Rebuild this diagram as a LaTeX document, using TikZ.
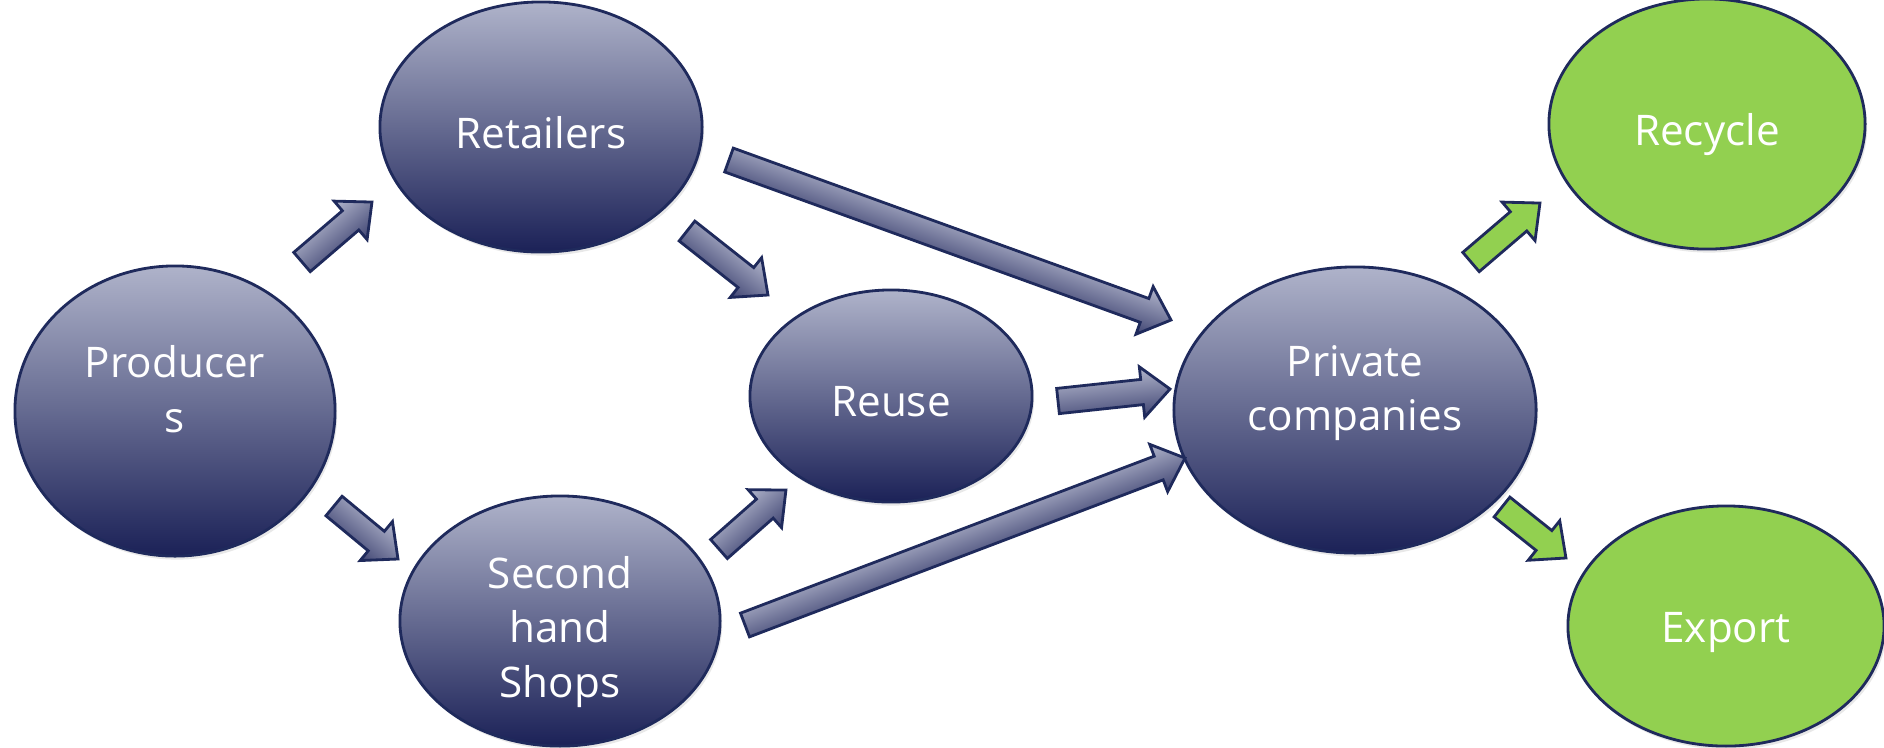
\documentclass[tikz,border=0pt]{standalone}
\usepackage{fontspec}
\setmainfont{Open Sans}
\usetikzlibrary{shapes.geometric, shadows, calc}

\definecolor{navyline}{HTML}{1F2A5C}
\definecolor{bubbletop}{HTML}{AFB3CA}
\definecolor{bubblemid}{HTML}{888BA8}
\definecolor{bubblebot}{HTML}{1B2157}
\definecolor{arrowtop}{HTML}{B2B6CC}
\definecolor{arrowbot}{HTML}{3F4472}
\definecolor{leaf}{HTML}{92D050}

\tikzset{
  blob/.style={ellipse, draw=navyline, line width=0.8pt, inner sep=0pt,
    drop shadow={opacity=0.18, shadow xshift=0.6pt, shadow yshift=-1pt}},
  blobtext/.style={align=center, text=white, font=\fontsize{12}{15.5}\selectfont, inner sep=0pt},
  navyblob/.style={blob, top color=bubbletop, middle color=bubblemid, bottom color=bubblebot},
  greenblob/.style={blob, fill=leaf},
  flowarrow/.style={draw=navyline, line width=0.8pt, line join=miter, top color=arrowtop, bottom color=arrowbot},
  greenarrow/.style={draw=navyline, line width=0.8pt, line join=miter, fill=leaf}
}

% block arrow from #2 (tail) to #3 (tip)
\newcommand\blockarrow[3][flowarrow]{%
  \path (#2); \pgfgetlastxy{\ax}{\ay}%
  \path (#3); \pgfgetlastxy{\bx}{\by}%
  \pgfmathsetmacro\arrang{atan2(\by-\ay,\bx-\ax)}%
  \pgfmathsetmacro\arrlen{veclen(\bx-\ax,\by-\ay)}%
  \begin{scope}[transform canvas={shift={(\ax,\ay)},rotate=\arrang}]
    \path[#1] (0pt,3.6pt) -- ({\arrlen pt-8pt},3.6pt) -- ({\arrlen pt-8pt},7.2pt)
      -- (\arrlen pt,0pt) -- ({\arrlen pt-8pt},-7.2pt) -- ({\arrlen pt-8pt},-3.6pt)
      -- (0pt,-3.6pt) -- cycle;
  \end{scope}%
}

\begin{document}
\begin{tikzpicture}[x=0.01cm, y=-0.01cm]
\useasboundingbox (0,0) rectangle (1884,747);

\node(prod)[navyblob, minimum width=3.2cm, minimum height=2.9cm,
  label={[blobtext, yshift=0.22cm]center:{Producer\\s}}] at (175,411) {};
\node(ret)[navyblob, minimum width=3.22cm, minimum height=2.5cm,
  label={[blobtext, yshift=-0.06cm]center:Retailers}] at (541,127) {};
\node(shop)[navyblob, minimum width=3.2cm, minimum height=2.5cm,
  label={[blobtext, yshift=-0.11cm]center:{Second\\hand\\Shops}}] at (560,621) {};
\node(reuse)[navyblob, minimum width=2.82cm, minimum height=2.12cm,
  label={[blobtext, yshift=-0.06cm]center:Reuse}] at (891,396) {};
\node(priv)[navyblob, minimum width=3.62cm, minimum height=2.86cm,
  label={[blobtext, yshift=0.17cm]center:{Private\\companies}}] at (1355,410) {};
\node(recy)[greenblob, minimum width=3.16cm, minimum height=2.5cm,
  label={[blobtext, yshift=-0.11cm]center:Recycle}] at (1707,124) {};
\node(expo)[greenblob, minimum width=3.16cm, minimum height=2.4cm,
  label={[blobtext, yshift=-0.06cm]center:Export}] at (1726,626) {};

\coordinate (pr1) at (302,262);  \coordinate (pr2) at (372,202);
\coordinate (ps1) at (334,506);  \coordinate (ps2) at (398,559);
\coordinate (rr1) at (687,231);  \coordinate (rr2) at (768,295);
\coordinate (rp1) at (729,160);  \coordinate (rp2) at (1171,320);
\coordinate (up1) at (1058,401); \coordinate (up2) at (1170,389);
\coordinate (sr1) at (719,549);  \coordinate (sr2) at (786,490);
\coordinate (sp1) at (745,625);  \coordinate (sp2) at (1185,458);
\coordinate (py1) at (1471,262); \coordinate (py2) at (1540,203);
\coordinate (px1) at (1502,507); \coordinate (px2) at (1566,558);

\blockarrow{pr1}{pr2}
\blockarrow{ps1}{ps2}
\blockarrow{rr1}{rr2}
\blockarrow{rp1}{rp2}
\blockarrow{up1}{up2}
\blockarrow{sr1}{sr2}
\blockarrow{sp1}{sp2}
\blockarrow[greenarrow]{py1}{py2}
\blockarrow[greenarrow]{px1}{px2}
\end{tikzpicture}
\end{document}
